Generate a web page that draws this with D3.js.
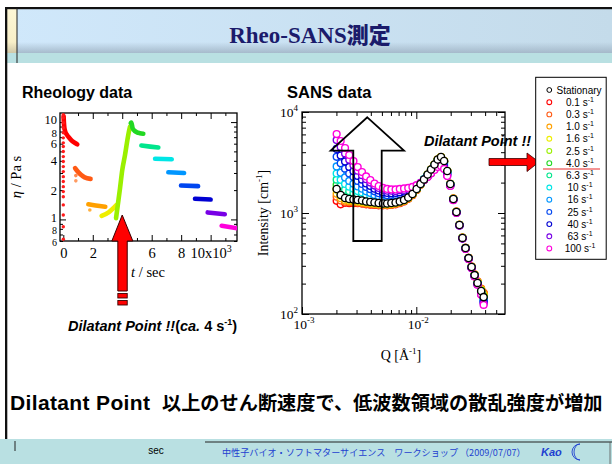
<!DOCTYPE html>
<html><head><meta charset="utf-8">
<script src="https://cdn.jsdelivr.net/npm/d3@7"></script>
<style>body{margin:0;background:#fff}svg{display:block}</style>
</head><body>
<svg id="c" width="612" height="464"></svg>
<script>
// ---------- data ----------
const rates = ["0.1","0.3","1.0","1.6","2.5","4.0","6.3","10","16","25","40","63","100"];
const rateColors = ["#ff0000","#ff5a14","#ffa000","#eeee00","#9af000","#22d822","#00e68c","#00e6e6","#0096ff","#0046f0","#0000d2","#7800e6","#ff00dc"];

// Rheology: viscosity (Pa s) vs time (10^3 s), one segment per shear rate
const rheoT = [
  [0.02,0.04,0.07,0.12,0.25,0.4,0.6,0.8,0.95],
  [0.8,1.0,1.2,1.45,1.85],
  [1.7,2.2,2.85],
  [2.6,3.1,3.62],
  [3.58,3.7,3.85,4.0,4.19,4.41,4.53],
  [4.58,4.62,4.7,4.85,5.0,5.2,5.43],
  [5.3,5.9,6.45],
  [6.23,7.36],
  [7.13,8.2],
  [7.99,9.15],
  [8.94,10.0],
  [9.8,10.96],
  [10.75,11.8]
];
const rheoEta = [
  [11.5,10.0,8.8,8.1,7.4,6.9,6.4,6.1,5.9],
  [3.36,3.08,2.87,2.7,2.61],
  [1.43,1.39,1.35],
  [1.085,1.19,1.41],
  [1.03,1.41,2.09,3.2,4.6,7.4,9.0],
  [9.8,9.9,8.7,8.1,7.85,7.7,7.6],
  [5.74,5.6,5.48],
  [4.2,4.15],
  [3.05,3.0],
  [2.23,2.2],
  [1.63,1.6],
  [1.18,1.13],
  [0.86,0.81]
];
// start-up transient at t = 0 (0.1 s-1)
const startupEta = [0.625,0.842,1.11,1.41,1.71,1.93,2.17,2.45,2.75,3.10,3.49,3.93,4.42,4.98,5.61,6.12,6.89,7.76,8.74,9.84,11.07,11.9];
const strayT = [0.85,0.85,1.8];
const strayEta = [2.82,2.49,1.25];
const strayColors = ["#ff8a50","#ff9a60","#ffb040"];
const rheoXTicks = [0,2,4,6,8,10];
const rheoYLabels = [0.6,0.8,1,2,4,6,8,10];

// SANS: intensity (cm-1) vs Q (1/Å)
const sansQ = [0.00201,0.00218,0.00238,0.00259,0.00282,0.00307,0.00335,0.00364,0.00396,0.00431,0.00469,0.00511,0.00556,0.00605,0.00659,0.00717,0.00781,0.0085,0.00925,0.01007,0.01088,0.01167,0.01256,0.01345,0.01442,0.01538,0.01645,0.0175,0.01866,0.01984,0.0211,0.02244,0.02385,0.02535,0.02696,0.02866,0.03045,0.03236,0.03433,0.03693,0.03882];
const stationaryI = [1729,1508,1408,1376,1361,1345,1330,1300,1285,1271,1256,1242,1242,1256,1271,1300,1345,1424,1542,1729,1937,2147,2406,2696,3022,3386,3584,3272,2605,1937,1376,1023,761,566,450,358,292,243,203,169,147];
const sansByRate = [
  [1320,1220,1260,1250,1250,1250,1240,1220,1210,1200,1190,1190,1190,1200,1220,1250,1300,1380,1500,1690,1900,2120,2380,2680,3000,3360,3550,3240,2600,1940,1390,1030,765,570,452,360,294,246,208,176,160],
  [1450,1330,1290,1280,1270,1260,1250,1230,1220,1210,1200,1200,1200,1210,1230,1260,1310,1390,1510,1700,1910,2130,2390,2690,3010,3370,3560,3250,2600,1940,1390,1030,765,570,452,360,294,246,210,178,162],
  [1550,1400,1330,1310,1300,1290,1270,1250,1240,1230,1220,1210,1210,1220,1240,1270,1320,1400,1520,1710,1920,2140,2400,2700,3020,3380,3570,3260,2600,1940,1385,1028,764,568,451,359,293,245,208,175,158],
  [1700,1480,1390,1350,1340,1320,1300,1280,1270,1250,1240,1230,1230,1240,1260,1290,1330,1410,1530,1720,1930,2140,2400,2690,3010,3370,3570,3260,2600,1930,1380,1025,762,567,450,358,292,244,205,172,152],
  [1760,1530,1420,1380,1360,1340,1320,1300,1280,1270,1250,1240,1240,1250,1270,1300,1340,1420,1540,1720,1930,2140,2390,2680,3000,3350,3550,3250,2590,1930,1378,1024,762,567,450,358,292,243,204,171,150],
  [1900,1660,1530,1490,1460,1420,1400,1360,1340,1310,1290,1280,1270,1280,1300,1330,1370,1450,1560,1740,1940,2150,2390,2680,2990,3340,3530,3230,2580,1930,1375,1022,760,566,449,357,291,242,202,168,146],
  [2140,1850,1700,1640,1580,1530,1490,1430,1400,1370,1340,1320,1320,1330,1330,1370,1410,1480,1590,1760,1940,2150,2380,2660,2960,3280,3460,3170,2550,1920,1372,1020,758,565,448,356,290,241,201,166,143],
  [2460,2130,1940,1820,1740,1650,1600,1520,1480,1440,1390,1370,1370,1370,1390,1400,1450,1510,1620,1780,1960,2150,2360,2630,2920,3220,3370,3110,2530,1920,1368,1018,757,564,447,355,289,240,200,165,140],
  [2890,2500,2250,2080,1950,1830,1740,1640,1580,1510,1470,1440,1430,1430,1440,1460,1490,1550,1650,1800,1960,2150,2360,2590,2870,3150,3300,3040,2470,1900,1365,1015,756,563,446,354,288,239,199,163,137],
  [3600,3110,2750,2460,2270,2080,1940,1810,1720,1640,1570,1530,1500,1510,1510,1530,1570,1620,1700,1820,1960,2130,2330,2560,2810,3050,3190,2940,2440,1880,1360,1012,755,562,445,353,288,238,198,161,134],
  [4310,3710,3240,2860,2590,2330,2140,1960,1850,1740,1670,1600,1580,1570,1580,1600,1630,1670,1730,1850,1980,2130,2310,2530,2750,2980,3080,2860,2400,1880,1355,1008,753,561,443,352,287,237,197,159,131],
  [5270,4510,3890,3360,2970,2620,2370,2160,2000,1870,1770,1700,1660,1660,1650,1680,1690,1740,1770,1870,1980,2130,2290,2480,2720,2910,2970,2780,2340,1860,1348,1004,752,560,442,351,286,236,196,157,127],
  [6050,5160,4400,3750,3270,2850,2545,2300,2120,1960,1850,1770,1730,1710,1710,1730,1750,1770,1810,1890,1980,2120,2270,2460,2665,2850,2920,2730,2320,1850,1340,1000,750,560,440,350,285,235,195,155,123]
];
const sansYMajor = [100,1000,10000];
const sansXMajor = [0.001,0.01];

// ---------- drawing ----------
const svg = d3.select("#c");
const SERIF = "'Liberation Serif','Times New Roman',serif";
const SANS = "'Liberation Sans',Arial,'Noto Sans CJK JP',sans-serif";

const defs = svg.append("defs");
const gH = defs.append("linearGradient").attr("id","hdr").attr("x1",0).attr("x2",1).attr("y1",0).attr("y2",0);
gH.append("stop").attr("offset",0).attr("stop-color","#d0e8fb");
gH.append("stop").attr("offset",1).attr("stop-color","#c4dbea");
const gS = defs.append("linearGradient").attr("id","hdrShade").attr("x1",0).attr("x2",0).attr("y1",0).attr("y2",1);
gS.append("stop").attr("offset",0).attr("stop-color","#9fb3c4").attr("stop-opacity",0);
gS.append("stop").attr("offset",1).attr("stop-color","#9fb3c4").attr("stop-opacity",0.85);
const gC = defs.append("linearGradient").attr("id","cream").attr("x1",0).attr("x2",0).attr("y1",0).attr("y2",1);
gC.append("stop").attr("offset",0).attr("stop-color","#fdf7d6");
gC.append("stop").attr("offset",0.75).attr("stop-color","#f8efc8");
gC.append("stop").attr("offset",1).attr("stop-color","#cfc7a8");

// header band
svg.append("rect").attr("x",7).attr("y",9).attr("width",605).attr("height",44).attr("fill","url(#hdr)");
svg.append("rect").attr("x",7).attr("y",42).attr("width",605).attr("height",11).attr("fill","url(#hdrShade)");
svg.append("rect").attr("x",7).attr("y",9).attr("width",10).attr("height",44).attr("fill","url(#cream)");
svg.append("rect").attr("x",7).attr("y",53).attr("width",605).attr("height",10).attr("fill","#b9e0e2");
svg.append("rect").attr("x",5).attr("y",7).attr("width",607).attr("height",2.2).attr("fill","#111");
svg.append("rect").attr("x",5).attr("y",7).attr("width",2.3).attr("height",432).attr("fill","#111");
svg.append("line").attr("x1",17).attr("x2",17).attr("y1",8).attr("y2",63).attr("stroke","#222").attr("stroke-width",1);

const title = svg.append("text").attr("x",310).attr("y",43).attr("text-anchor","middle")
  .attr("fill","#1b1b6b").attr("font-weight","bold").attr("font-size",23);
title.append("tspan").attr("font-family",SERIF).text("Rheo-SANS");
title.append("tspan").attr("font-family","'Noto Sans CJK JP',sans-serif").attr("font-weight",900).attr("font-size",22).text("測定");

// footer band
svg.append("rect").attr("x",0).attr("y",439).attr("width",612).attr("height",25).attr("fill","#b9e0e2");
svg.append("line").attr("x1",15).attr("x2",15).attr("y1",441).attr("y2",451).attr("stroke","#222");
svg.append("line").attr("x1",205).attr("x2",612).attr("y1",442).attr("y2",442).attr("stroke","#222").attr("stroke-width",1);
svg.append("line").attr("x1",610).attr("x2",610).attr("y1",442).attr("y2",464).attr("stroke","#555").attr("stroke-width",0.8);
svg.append("text").attr("x",156).attr("y",454).attr("text-anchor","middle").attr("font-family",SANS).attr("font-size",10).text("sec");
svg.append("text").attr("x",222).attr("y",456).attr("font-family","'Noto Sans CJK JP',sans-serif").attr("font-size",9.1)
  .attr("fill","#1e3fd0").text("中性子バイオ・ソフトマターサイエンス\u3000ワークショップ （2009/07/07）");
svg.append("text").attr("x",541).attr("y",456).attr("font-family",SANS).attr("font-style","italic").attr("font-weight","bold")
  .attr("font-size",11).attr("fill","#1e3fd0").text("Kao");
svg.append("path").attr("d","M580,444 A8,8 0 1,0 580,460 A6,8 0 1,1 580,444 Z").attr("fill","none").attr("stroke","#1e3fd0").attr("stroke-width",0.9);

// ---------- Rheology panel ----------
svg.append("text").attr("x",22).attr("y",98).attr("font-family",SANS).attr("font-weight","bold").attr("font-size",16).text("Rheology data");

const rx = d3.scaleLinear().domain([-0.224,11.79]).range([60,237]);
const ry = d3.scaleLog().domain([0.6,12.4]).range([241,113]);
const R = svg.append("g");

const addAxis = (g, gen, tr) => {
  const a = g.append("g").attr("transform",tr).call(gen);
  a.select(".domain").remove();
  a.selectAll("line").attr("stroke","#000").attr("stroke-width",1);
  return a;
};
const ax = addAxis(R, d3.axisBottom(rx).tickValues(rheoXTicks).tickSize(-6).tickPadding(7).tickFormat(d => d===10 ? "10x10" : d), "translate(0,241)");
ax.selectAll("text").attr("font-family",SERIF).attr("font-size",14.5).attr("fill","#000");
ax.selectAll("text").filter(d => d===10).append("tspan").attr("dy",-6).attr("font-size",10).text("3");
addAxis(R, d3.axisBottom(rx).tickValues([1,3,5,7,9,11]).tickSize(-3).tickFormat(""), "translate(0,241)");
addAxis(R, d3.axisTop(rx).tickValues(rheoXTicks).tickSize(-6).tickFormat(""), "translate(0,113)");
addAxis(R, d3.axisTop(rx).tickValues([1,3,5,7,9,11]).tickSize(-3).tickFormat(""), "translate(0,113)");
const rMinor = [0.6,0.7,0.8,0.9,2,3,4,5,6,7,8,9];
addAxis(R, d3.axisLeft(ry).tickValues([1,10]).tickSize(-6).tickFormat(""), "translate(60,0)");
addAxis(R, d3.axisLeft(ry).tickValues(rMinor).tickSize(-3).tickFormat(""), "translate(60,0)");
addAxis(R, d3.axisRight(ry).tickValues([1,10]).tickSize(-6).tickFormat(""), "translate(237,0)");
addAxis(R, d3.axisRight(ry).tickValues(rMinor).tickSize(-3).tickFormat(""), "translate(237,0)");
// y labels: crowded near the decade marks, so the shifts keep them apart
const yLabShift = {10:2, 8:5, 6:4.5, 4:4.5, 2:4.5, 1:3, 0.8:5.5, 0.6:4.5};
R.selectAll("text.ylab").data(rheoYLabels).enter().append("text")
  .attr("x",57).attr("y",d => ry(d)+yLabShift[d]).attr("text-anchor","end")
  .attr("font-family",SERIF).attr("font-size",d => d<1 ? 10 : (d===8 ? 11 : 12.5)).text(d => d<1 ? String(Math.round(d*10)) : d);
R.append("rect").attr("x",60).attr("y",113).attr("width",177).attr("height",128).attr("fill","none").attr("stroke","#000").attr("stroke-width",1.3);

const rclip = defs.append("clipPath").attr("id","rclip");
rclip.append("rect").attr("x",60).attr("y",113).attr("width",177).attr("height",128);
const RD = R.append("g").attr("clip-path","url(#rclip)");
const rline = d3.line().x(d => rx(d[0])).y(d => ry(d[1])).curve(d3.curveMonotoneX);
rheoT.forEach((ts,i) => {
  RD.append("path").attr("d", rline(ts.map((t,j) => [t, rheoEta[i][j]])))
    .attr("fill","none").attr("stroke",rateColors[i]).attr("stroke-width",4.6).attr("stroke-linecap","round");
});
RD.selectAll("circle.su").data(startupEta).enter().append("circle")
  .attr("cx",rx(0)).attr("cy",d => ry(d)).attr("r",1.7).attr("fill","#ff1a1a");
RD.selectAll("circle.st").data(strayT).enter().append("circle")
  .attr("cx",d => rx(d)).attr("cy",(d,i) => ry(strayEta[i])).attr("r",1.8).attr("fill",(d,i) => strayColors[i]);

const etaLab = svg.append("text").attr("transform","translate(21,177) rotate(-90)").attr("text-anchor","middle")
  .attr("font-family",SERIF).attr("font-size",14.5);
etaLab.append("tspan").attr("font-style","italic").text("η");
etaLab.append("tspan").text(" / Pa s");
const tLab = svg.append("text").attr("x",148).attr("y",277).attr("text-anchor","middle").attr("font-family",SERIF).attr("font-size",14.5);
tLab.append("tspan").attr("font-style","italic").text("t");
tLab.append("tspan").text(" / sec");

// red arrow at the dilatant point
const ax4 = rx(4);
svg.append("path").attr("d",`M${ax4},215 L${ax4+10.6},241 L${ax4+5},241 L${ax4+5},291 L${ax4-4.4},291 L${ax4-4.4},241 L${ax4-10.4},241 Z`)
  .attr("fill","#ff0000").attr("stroke","#3a0000").attr("stroke-width",1);
svg.append("rect").attr("x",ax4-4.4).attr("y",293.5).attr("width",9.4).attr("height",4.5).attr("fill","#ff0000").attr("stroke","#3a0000").attr("stroke-width",0.9);
svg.append("rect").attr("x",ax4-4.4).attr("y",300.5).attr("width",9.4).attr("height",4.5).attr("fill","#ff0000").attr("stroke","#3a0000").attr("stroke-width",0.9);

const dp = svg.append("text").attr("x",68).attr("y",331).attr("font-family",SANS).attr("font-weight","bold").attr("font-size",14.5);
dp.append("tspan").attr("font-style","italic").text("Dilatant Point !!");
dp.append("tspan").text("(");
dp.append("tspan").attr("font-style","italic").text("ca.");
dp.append("tspan").text(" 4 s");
dp.append("tspan").attr("dy",-6).attr("font-size",9).text("-1");
dp.append("tspan").attr("dy",6).text(")");

// ---------- SANS panel ----------
svg.append("text").attr("x",287).attr("y",98).attr("font-family",SANS).attr("font-weight","bold").attr("font-size",16.5).text("SANS data");

const sx = d3.scaleLog().domain([0.001,0.0597]).range([302,505]);
const sy = d3.scaleLog().domain([100,10000]).range([314,112]);
const S = svg.append("g");
const sYMinor = [200,300,400,500,600,700,800,900,2000,3000,4000,5000,6000,7000,8000,9000];
const sXMinor = [0.002,0.003,0.004,0.005,0.006,0.007,0.008,0.009,0.02,0.03,0.04,0.05];
addAxis(S, d3.axisLeft(sy).tickValues(sansYMajor).tickSize(-7).tickFormat(""), "translate(302,0)");
addAxis(S, d3.axisLeft(sy).tickValues(sYMinor).tickSize(-4).tickFormat(""), "translate(302,0)");
addAxis(S, d3.axisRight(sy).tickValues(sansYMajor).tickSize(-7).tickFormat(""), "translate(505,0)");
addAxis(S, d3.axisRight(sy).tickValues(sYMinor).tickSize(-4).tickFormat(""), "translate(505,0)");
addAxis(S, d3.axisBottom(sx).tickValues(sansXMajor).tickSize(-7).tickFormat(""), "translate(0,314)");
addAxis(S, d3.axisBottom(sx).tickValues(sXMinor).tickSize(-4).tickFormat(""), "translate(0,314)");
addAxis(S, d3.axisTop(sx).tickValues(sansXMajor).tickSize(-7).tickFormat(""), "translate(0,112)");
addAxis(S, d3.axisTop(sx).tickValues(sXMinor).tickSize(-4).tickFormat(""), "translate(0,112)");
S.append("rect").attr("x",302).attr("y",112).attr("width",203).attr("height",202).attr("fill","none").attr("stroke","#000").attr("stroke-width",1.3);

sansYMajor.forEach(v => {
  const t = S.append("text").attr("x",298).attr("y",sy(v)+5).attr("text-anchor","end").attr("font-family",SERIF).attr("font-size",13.5);
  t.append("tspan").text("10");
  t.append("tspan").attr("dy",-6).attr("font-size",9).text(Math.round(Math.log10(v)));
});
sansXMajor.forEach(v => {
  const t = S.append("text").attr("x",sx(v)+2).attr("y",329).attr("text-anchor","middle").attr("font-family",SERIF).attr("font-size",13.5);
  t.append("tspan").text("10");
  t.append("tspan").attr("dy",-6).attr("font-size",9).text(Math.round(Math.log10(v)));
});
const qLab = svg.append("text").attr("x",401).attr("y",360).attr("text-anchor","middle").attr("font-family",SERIF).attr("font-size",14);
qLab.append("tspan").text("Q [Å");
qLab.append("tspan").attr("dy",-6).attr("font-size",9).text("-1");
qLab.append("tspan").attr("dy",6).text("]");
const iLab = svg.append("text").attr("transform","translate(268,213) rotate(-90)").attr("text-anchor","middle").attr("font-family",SERIF).attr("font-size",14);
iLab.append("tspan").text("Intensity [cm");
iLab.append("tspan").attr("dy",-6).attr("font-size",9).text("-1");
iLab.append("tspan").attr("dy",6).text("]");

// scattering curves: shear rates first, stationary on top
sansByRate.forEach((vals,i) => {
  S.append("g").selectAll("circle").data(vals).enter().append("circle")
    .attr("cx",(d,j) => sx(sansQ[j])).attr("cy",d => sy(d)).attr("r",3.4)
    .attr("fill","#fff").attr("stroke",rateColors[i]).attr("stroke-width",1.4);
});
S.append("g").selectAll("circle").data(stationaryI).enter().append("circle")
  .attr("cx",(d,j) => sx(sansQ[j])).attr("cy",d => sy(d)).attr("r",3.6)
  .attr("fill","#fff").attr("stroke","#000").attr("stroke-width",1.4);

// open arrow: low-Q intensity rises with shear rate
svg.append("path").attr("d","M367.3,117.3 L404,150.7 L381.7,150.7 L381.7,241 L353.3,241 L353.3,150.7 L330.7,150.7 Z")
  .attr("fill","none").attr("stroke","#000").attr("stroke-width",1.8).attr("stroke-linejoin","miter");

svg.append("text").attr("x",424).attr("y",146).attr("font-family",SANS).attr("font-weight","bold").attr("font-style","italic")
  .attr("font-size",14.5).text("Dilatant Point !!");
svg.append("path").attr("d","M489,158.5 L527,158.5 L527,153 L539,162 L527,171.5 L527,165.5 L489,165.5 Z")
  .attr("fill","#ff0000").attr("stroke","#3a0000").attr("stroke-width",0.8);

// legend
const L = svg.append("g");
L.append("rect").attr("x",535.7).attr("y",77.3).attr("width",70.5).attr("height",182).attr("fill","#fff").attr("stroke","#000").attr("stroke-width",1);
const rowY = i => 90 + 12.19*i;
L.append("circle").attr("cx",549.3).attr("cy",rowY(0)).attr("r",2.4).attr("fill","#fff").attr("stroke","#000").attr("stroke-width",1);
L.append("text").attr("x",556.5).attr("y",rowY(0)+3.6).attr("font-family",SANS).attr("font-size",10).text("Stationary");
rates.forEach((r,i) => {
  const y = rowY(i+1);
  L.append("circle").attr("cx",549.3).attr("cy",y).attr("r",2.4).attr("fill","#fff").attr("stroke",rateColors[i]).attr("stroke-width",1.1);
  const t = L.append("text").attr("x",580).attr("y",y+3.6).attr("text-anchor","middle").attr("font-family",SANS).attr("font-size",10);
  t.append("tspan").text(r + " s");
  t.append("tspan").attr("dy",-4).attr("font-size",7).text("-1");
});
L.append("line").attr("x1",543).attr("x2",600).attr("y1",169).attr("y2",169).attr("stroke","#f07070").attr("stroke-width",1.5);

// conclusion line
const concl = svg.append("text").attr("y",410).attr("font-weight","bold").attr("font-family",SANS).attr("font-size",19.2);
concl.append("tspan").attr("x",10).attr("font-size",21).attr("textLength",140).attr("lengthAdjust","spacing").text("Dilatant Point");
concl.append("tspan").attr("x",162).attr("font-family","'Noto Sans CJK JP',sans-serif").text("以上のせん断速度で、低波数領域の散乱強度が増加");
</script>
</body></html>
